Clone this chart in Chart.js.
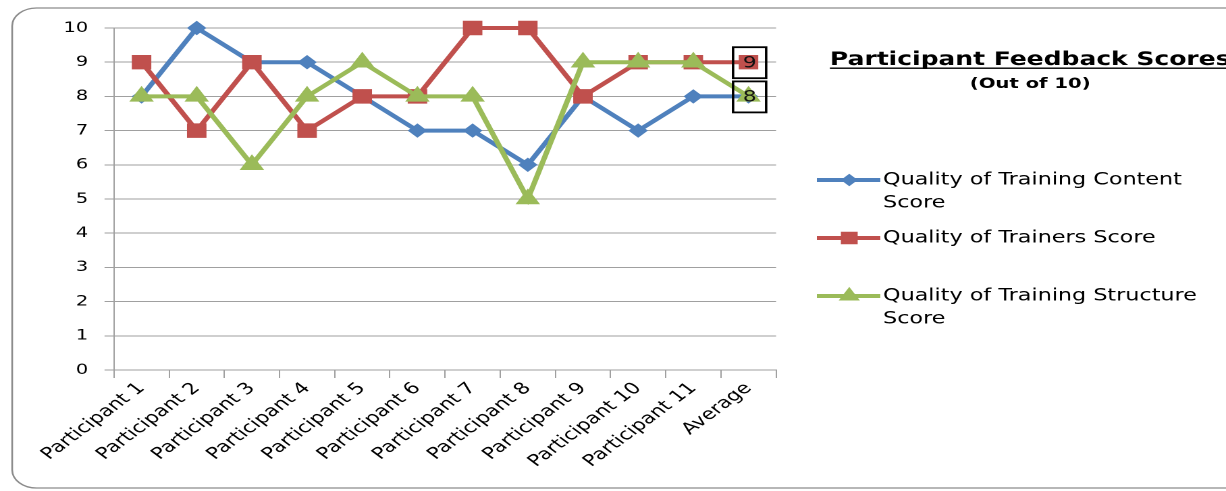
<!DOCTYPE html>
<html>
<head>
<meta charset="utf-8">
<script src="https://cdn.jsdelivr.net/npm/chart.js@4.4.1/dist/chart.umd.min.js"></script>
<style>
html,body{margin:0;padding:0;background:#fff;overflow:hidden;width:1226px;height:491px;}
#wrap{position:absolute;left:0;top:0;width:908px;height:491px;transform:scaleX(1.3502);transform-origin:0 0;}
</style>
</head>
<body>
<div id="wrap"><canvas id="c"></canvas></div>
<script>
// ---- data ----
const categories = ['Participant 1','Participant 2','Participant 3','Participant 4','Participant 5','Participant 6','Participant 7','Participant 8','Participant 9','Participant 10','Participant 11','Average'];
const contentScores   = [8, 10, 9, 9, 8, 7, 7, 6, 8, 7, 8, 8];
const trainersScores  = [9, 7, 9, 7, 8, 8, 10, 10, 8, 9, 9, 9];
const structureScores = [8, 8, 6, 8, 9, 8, 8, 5, 9, 9, 9, 8];
const seriesNames = ['Quality of Training Content Score','Quality of Trainers Score','Quality of Training Structure Score'];
const yMin = 0, yMax = 10, yStep = 1;
const chartTitle = 'Participant Feedback Scores';
const chartSubtitle = '(Out of 10)';
const labelledSeries = [1, 2]; // series whose last value carries a boxed data label

// ---- styles ----
const FONT = 'DejaVu Sans';
const colors = ['#4F81BD', '#C0504D', '#9BBB59'];
const styles = ['rectRot', 'rect', 'triangle'];
const radii = [6.5, 9.5, 9.5];
const orders = [3, 2, 1];
const gridColor = '#a0a0a0';

const seriesValues = [contentScores, trainersScores, structureScores];
const datasets = seriesValues.map((vals, i) => ({
  label: seriesNames[i],
  data: vals,
  borderColor: colors[i],
  backgroundColor: colors[i],
  pointBackgroundColor: colors[i],
  pointBorderColor: colors[i],
  pointStyle: styles[i],
  pointRadius: radii[i],
  pointBorderWidth: 1,
  borderWidth: 4,
  tension: 0,
  order: orders[i],
  clip: false
}));

function drawMarker(ctx, style, r, x, y, color) {
  ctx.save();
  ctx.fillStyle = color; ctx.strokeStyle = color; ctx.lineWidth = 1;
  ctx.beginPath();
  if (style === 'rectRot') {
    ctx.moveTo(x - r, y); ctx.lineTo(x, y - r); ctx.lineTo(x + r, y); ctx.lineTo(x, y + r);
  } else if (style === 'rect') {
    const h = r * Math.SQRT1_2; ctx.rect(x - h, y - h, 2 * h, 2 * h);
  } else {
    let a = 0;
    ctx.moveTo(x + Math.sin(a) * r, y - Math.cos(a) * r);
    a += 2 * Math.PI / 3; ctx.lineTo(x + Math.sin(a) * r, y - Math.cos(a) * r);
    a += 2 * Math.PI / 3; ctx.lineTo(x + Math.sin(a) * r, y - Math.cos(a) * r);
  }
  ctx.closePath(); ctx.fill(); ctx.stroke();
  ctx.restore();
}

function wrapText(ctx, text, maxW) {
  const words = text.split(' '); const lines = []; let cur = '';
  words.forEach(w => {
    const t = cur ? cur + ' ' + w : w;
    if (ctx.measureText(t).width > maxW && cur) { lines.push(cur); cur = w; } else cur = t;
  });
  if (cur) lines.push(cur);
  return lines;
}

const framePlugin = {
  id: 'frame',
  beforeDraw(chart) {
    const ctx = chart.ctx;
    ctx.save();
    ctx.fillStyle = '#fff'; ctx.fillRect(0, 0, chart.width, chart.height);
    const x = 9, y = 8, w = 1000, h = 480, r = 18;
    ctx.beginPath();
    ctx.moveTo(x + r, y); ctx.lineTo(x + w, y); ctx.lineTo(x + w, y + h);
    ctx.lineTo(x + r, y + h); ctx.arcTo(x, y + h, x, y + h - r, r);
    ctx.lineTo(x, y + r); ctx.arcTo(x, y, x + r, y, r);
    ctx.strokeStyle = '#8c8c8c'; ctx.lineWidth = 1.3; ctx.stroke();
    ctx.restore();
  },
  afterDraw(chart) {
    const ctx = chart.ctx;
    ctx.save();
    // boxed data labels on the last point
    labelledSeries.forEach(si => {
      const meta = chart.getDatasetMeta(si);
      const pt = meta.data[meta.data.length - 1];
      const v = seriesValues[si][seriesValues[si].length - 1];
      const bw = 24.5, bh = 31;
      ctx.strokeStyle = '#000'; ctx.lineWidth = 1.8;
      ctx.strokeRect(pt.x - bw / 2 + 0.8, pt.y - bh / 2 + 0.5, bw, bh);
      ctx.fillStyle = '#111'; ctx.font = '16px "' + FONT + '"';
      ctx.textAlign = 'center'; ctx.textBaseline = 'middle';
      ctx.fillText(String(v), pt.x + 0.8, pt.y + 1);
    });
    // title
    const cx = 763;
    ctx.fillStyle = '#000';
    ctx.font = 'bold 18.5px "' + FONT + '"';
    ctx.textAlign = 'center'; ctx.textBaseline = 'alphabetic';
    ctx.fillText(chartTitle, cx, 65);
    const tw = ctx.measureText(chartTitle).width;
    ctx.fillRect(cx - tw / 2, 67.5, tw, 1.4);
    ctx.font = 'bold 14.5px "' + FONT + '"';
    ctx.fillText(chartSubtitle, cx, 88);
    // legend
    ctx.font = '16.5px "' + FONT + '"';
    ctx.textAlign = 'left'; ctx.textBaseline = 'middle';
    const itemY = [180, 238, 296];
    chart.data.datasets.forEach((ds, i) => {
      const y = itemY[i];
      ctx.strokeStyle = colors[i]; ctx.lineWidth = 4;
      ctx.beginPath(); ctx.moveTo(605, y); ctx.lineTo(652, y); ctx.stroke();
      drawMarker(ctx, styles[i], radii[i] * 0.85, 629, y, colors[i]);
      ctx.fillStyle = '#000';
      const lines = wrapText(ctx, ds.label, 250);
      lines.forEach((ln, k) => ctx.fillText(ln, 654, y + k * 23));
    });
    ctx.restore();
  }
};

new Chart(document.getElementById('c'), {
  type: 'line',
  data: { labels: categories, datasets },
  plugins: [framePlugin],
  options: {
    responsive: true,
    maintainAspectRatio: false,
    devicePixelRatio: 2,
    animation: false,
    layout: { padding: { top: 28, right: 333.2, bottom: 0, left: 0 } },
    plugins: { legend: { display: false }, title: { display: false }, tooltip: { enabled: false } },
    scales: {
      x: {
        type: 'category',
        offset: true,
        grid: { display: true, drawOnChartArea: false, drawTicks: true, tickLength: 8, color: gridColor, offset: true },
        border: { color: gridColor, width: 1 },
        ticks: { autoSkip: false, maxRotation: 45, minRotation: 45, padding: 1, color: '#000', font: { family: FONT, size: 16 } },
        afterFit(s) { s.height = 121; }
      },
      y: {
        min: yMin, max: yMax,
        grid: { color: gridColor, lineWidth: 1, drawTicks: true, tickLength: 7, tickColor: gridColor },
        border: { color: gridColor, width: 1 },
        ticks: { stepSize: yStep, padding: 12, color: '#000', font: { family: FONT, size: 14.5 } },
        afterFit(s) { s.width = 84.4; }
      }
    }
  }
});
</script>
</body>
</html>
